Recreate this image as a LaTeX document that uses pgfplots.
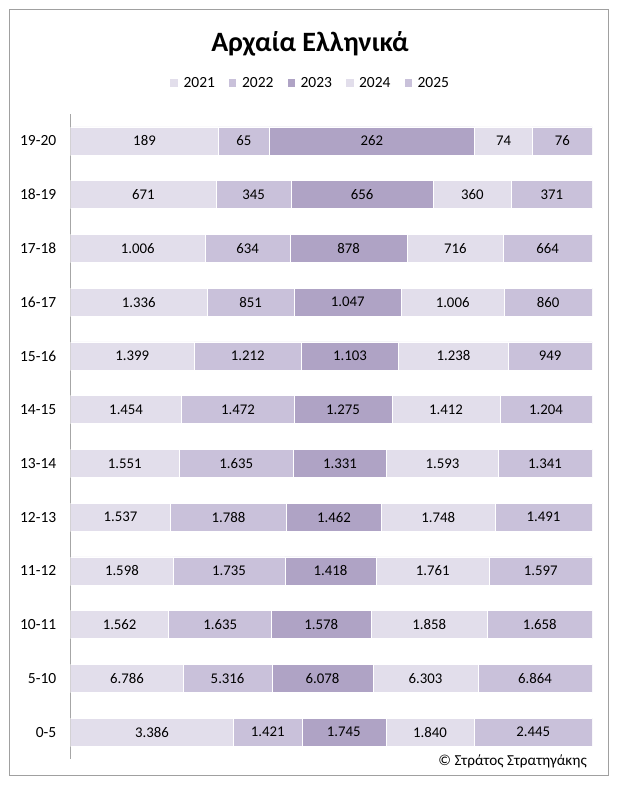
\documentclass[border=0pt]{standalone}
\usepackage{pgfplots}
\pgfplotsset{compat=1.18}
\usepackage{pgfplotstable}
\usepackage{fontspec}
\setmainfont{Carlito}

\definecolor{cA}{HTML}{E2DEEB}
\definecolor{cB}{HTML}{C9C1DA}
\definecolor{cC}{HTML}{AFA3C5}
\definecolor{frame}{HTML}{A0A0A0}
\definecolor{axgray}{HTML}{A6A6A6}

% rows from bottom (0-5) to top (19-20)
\pgfplotstableread{
idx lab a b c d e
0 0-5 3386 1421 1745 1840 2445
1 5-10 6786 5316 6078 6303 6864
2 10-11 1562 1635 1578 1858 1658
3 11-12 1598 1735 1418 1761 1597
4 12-13 1537 1788 1462 1748 1491
5 13-14 1551 1635 1331 1593 1341
6 14-15 1454 1472 1275 1412 1204
7 15-16 1399 1212 1103 1238 949
8 16-17 1336 851 1047 1006 860
9 17-18 1006 634 878 716 664
10 18-19 671 345 656 360 371
11 19-20 189 65 262 74 76
}\data
\pgfplotstablecreatecol[expr={\thisrow{a}+\thisrow{b}+\thisrow{c}+\thisrow{d}+\thisrow{e}}]{tot}{\data}

\pgfplotsset{
  base/.style={
    at={(70.5bp,26bp)}, anchor=south west,
    scale only axis, width=521.5bp, height=645bp,
    xmin=0, xmax=100, ymin=-0.5, ymax=11.5,
    /pgf/number format/assume math mode=true,
    /pgf/number format/1000 sep={.},
  },
  lbl/.style={draw=none, mark=none, nodes near coords, point meta=explicit,
    nodes near coords align=center,
    every node near coord/.append style={font=\fontsize{14.8bp}{17bp}\selectfont, text=black, anchor=center}},
}

\begin{document}
\begin{tikzpicture}[x=1bp,y=1bp]
\fill[white] (0,0) rectangle (618,785);
\draw[frame, line width=1bp] (9.5,9.5) rectangle (608,775.5);

\begin{axis}[base,
  xbar stacked, bar width=28bp,
  axis x line=none, axis y line*=left,
  y axis line style={axgray, line width=1bp, -},
  ytick={0,...,11}, yticklabels from table={\data}{lab},
  major tick length=0pt, ytick style={draw=none},
  yticklabel style={font=\fontsize{15.5bp}{18bp}\selectfont, inner sep=0pt, xshift=-14bp},
  legend columns=5,
  legend style={draw=none, fill=none, at={(0.5,1)}, anchor=center,
    xshift=-21bp, yshift=31bp,
    font=\fontsize{15.5bp}{18bp}\selectfont,
    /tikz/every odd column/.append style={column sep=3bp},
    /tikz/every even column/.append style={column sep=11bp}},
  legend image code/.code={\fill[#1] (0bp,-4.25bp) rectangle (8.5bp,4.25bp);},
]
\addplot[fill=cA, draw=white, line width=0.6bp] table[x expr=\thisrow{a}/\thisrow{tot}*100, y=idx]{\data};
\addplot[fill=cB, draw=white, line width=0.6bp] table[x expr=\thisrow{b}/\thisrow{tot}*100, y=idx]{\data};
\addplot[fill=cC, draw=white, line width=0.6bp] table[x expr=\thisrow{c}/\thisrow{tot}*100, y=idx]{\data};
\addplot[fill=cA, draw=white, line width=0.6bp] table[x expr=\thisrow{d}/\thisrow{tot}*100, y=idx]{\data};
\addplot[fill=cB, draw=white, line width=0.6bp] table[x expr=\thisrow{e}/\thisrow{tot}*100, y=idx]{\data};
\legend{2021,2022,2023,2024,2025}
\end{axis}

\begin{axis}[base, hide axis, clip=false]
\addplot[lbl] table[x expr=(\thisrow{a}/2)/\thisrow{tot}*100, y=idx, meta=a]{\data};
\addplot[lbl] table[x expr=(\thisrow{a}+\thisrow{b}/2)/\thisrow{tot}*100, y=idx, meta=b]{\data};
\addplot[lbl] table[x expr=(\thisrow{a}+\thisrow{b}+\thisrow{c}/2)/\thisrow{tot}*100, y=idx, meta=c]{\data};
\addplot[lbl] table[x expr=(\thisrow{a}+\thisrow{b}+\thisrow{c}+\thisrow{d}/2)/\thisrow{tot}*100, y=idx, meta=d]{\data};
\addplot[lbl] table[x expr=(\thisrow{a}+\thisrow{b}+\thisrow{c}+\thisrow{d}+\thisrow{e}/2)/\thisrow{tot}*100, y=idx, meta=e]{\data};
\end{axis}

\node[font=\bfseries\fontsize{28bp}{32bp}\selectfont] at (310,741) {Αρχαία Ελληνικά};
\node[anchor=east, font=\fontsize{15.2bp}{18bp}\selectfont, inner sep=0pt] at (587,24) {© Στράτος Στρατηγάκης};
\end{tikzpicture}
\end{document}
